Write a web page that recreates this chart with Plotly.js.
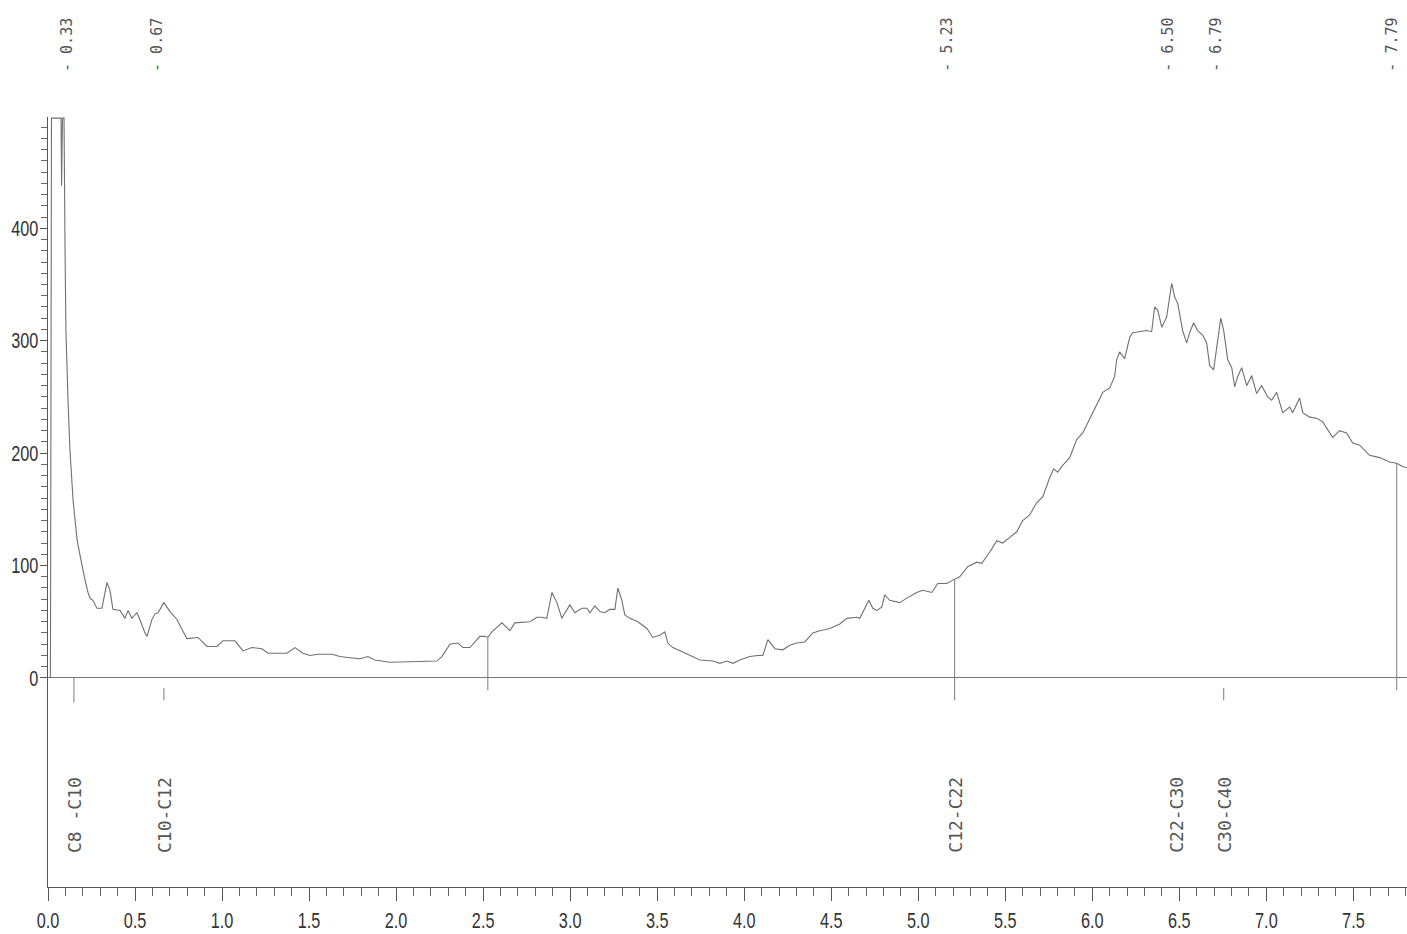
<!DOCTYPE html>
<html>
<head>
<meta charset="utf-8">
<script src="https://cdn.plot.ly/plotly-3.0.1.min.js"></script>
<style>
  html, body { margin: 0; padding: 0; background: #ffffff; }
  #chart { width: 1407px; height: 934px; }
</style>
</head>
<body>
<div id="chart"></div>
<script>
// Retention time (min) and detector signal
var retentionTime = [
  0.014, 0.020, 0.075, 0.078, 0.083, 0.092, 0.098, 0.103, 0.115, 0.126,
  0.144, 0.167, 0.184, 0.195, 0.213, 0.230, 0.241, 0.258, 0.281, 0.310,
  0.327, 0.339, 0.356, 0.373, 0.414, 0.442, 0.460, 0.482, 0.511, 0.528,
  0.557, 0.569, 0.597, 0.615, 0.632, 0.666, 0.701, 0.741, 0.770, 0.798,
  0.862, 0.913, 0.971, 1.005, 1.074, 1.120, 1.172, 1.229, 1.264, 1.373,
  1.419, 1.465, 1.505, 1.551, 1.631, 1.677, 1.735, 1.792, 1.838, 1.878,
  1.964, 2.234, 2.263, 2.309, 2.355, 2.384, 2.424, 2.481, 2.510, 2.527,
  2.550, 2.608, 2.654, 2.682, 2.769, 2.809, 2.837, 2.866, 2.895, 2.924,
  2.952, 2.970, 2.998, 3.027, 3.067, 3.096, 3.113, 3.142, 3.171, 3.199,
  3.228, 3.257, 3.274, 3.297, 3.314, 3.343, 3.389, 3.441, 3.475, 3.515,
  3.544, 3.561, 3.590, 3.647, 3.705, 3.745, 3.820, 3.860, 3.900, 3.935,
  3.975, 4.032, 4.078, 4.107, 4.136, 4.176, 4.222, 4.262, 4.302, 4.348,
  4.394, 4.434, 4.492, 4.549, 4.589, 4.647, 4.664, 4.693, 4.716, 4.739,
  4.762, 4.790, 4.808, 4.836, 4.894, 4.934, 4.991, 5.026, 5.078, 5.112,
  5.164, 5.198, 5.238, 5.284, 5.336, 5.365, 5.411, 5.451, 5.485, 5.526,
  5.566, 5.600, 5.640, 5.681, 5.715, 5.755, 5.778, 5.801, 5.830, 5.870,
  5.910, 5.945, 5.985, 6.025, 6.060, 6.100, 6.128, 6.140, 6.157, 6.186,
  6.215, 6.232, 6.272, 6.312, 6.341, 6.358, 6.376, 6.399, 6.427, 6.456,
  6.473, 6.491, 6.519, 6.542, 6.559, 6.582, 6.605, 6.634, 6.657, 6.674,
  6.697, 6.715, 6.738, 6.755, 6.778, 6.801, 6.818, 6.835, 6.858, 6.887,
  6.916, 6.944, 6.973, 7.008, 7.030, 7.059, 7.094, 7.134, 7.151, 7.191,
  7.209, 7.249, 7.289, 7.323, 7.381, 7.421, 7.461, 7.496, 7.536, 7.593,
  7.651, 7.708, 7.749, 7.783, 7.808
];
var signal = [
  0, 498, 498, 438, 498, 498, 380, 309, 247, 203,
  158, 123, 109, 100, 87, 76, 71, 69, 62, 62,
  76, 85, 78, 61, 60, 53, 60, 53, 58, 52,
  40, 37, 52, 57, 58, 67, 59, 52, 43, 35,
  36, 28, 28, 33, 33, 24, 27, 26, 22, 22,
  27, 22, 20, 21, 21, 19, 18, 17, 19, 16,
  14, 15, 19, 30, 31, 27, 27, 37, 37, 36,
  41, 49, 42, 49, 50, 54, 54, 53, 76, 67,
  53, 58, 65, 58, 62, 62, 58, 64, 59, 58,
  61, 61, 80, 69, 56, 53, 50, 44, 36, 38,
  41, 31, 27, 23, 19, 16, 15, 13, 15, 13,
  16, 19, 20, 20, 34, 26, 25, 29, 31, 32,
  40, 42, 44, 48, 53, 54, 53, 62, 69, 62,
  60, 63, 74, 69, 67, 71, 76, 78, 76, 84,
  84, 87, 90, 99, 103, 102, 112, 122, 120, 125,
  130, 140, 145, 156, 161, 178, 186, 183, 189, 196,
  212, 218, 231, 244, 254, 258, 268, 283, 290, 284,
  303, 307, 308, 309, 308, 330, 327, 312, 321, 351,
  339, 333, 309, 298, 307, 316, 309, 305, 298, 278,
  274, 294, 320, 309, 283, 276, 259, 268, 276, 260,
  269, 253, 260, 250, 247, 254, 236, 241, 236, 249,
  236, 232, 231, 228, 214, 220, 218, 209, 207, 198,
  196, 192, 191, 188, 187
];

// Integration event markers (vertical drop lines)
var markerTimes = [2.527, 5.209, 7.749];
var markerBottoms = [-11, -20, -11];

// Short event ticks below the baseline
var eventTimes = [0.149, 0.666, 6.755];
var eventTops = [0, -9, -9];
var eventBottoms = [-22, -20, -20];

// Peak retention-time labels printed above the chart
var peakTimes = [0.33, 0.67, 5.23, 6.50, 6.79, 7.79];
var peakLabelX = [0.109, 0.626, 5.163, 6.433, 6.709, 7.720];

// Carbon range labels under the baseline
var rangeLabels = ['C8 -C10', 'C10-C12', 'C12-C22', 'C22-C30', 'C30-C40'];
var rangeLabelX = [0.149, 0.666, 5.209, 6.479, 6.755];

// Axis ticks
var xTickVals = [0, 0.5, 1, 1.5, 2, 2.5, 3, 3.5, 4, 4.5, 5, 5.5, 6, 6.5, 7, 7.5];
var yTickVals = [0, 100, 200, 300, 400];

function signalAt(t) {
  for (var i = 1; i < retentionTime.length; i++) {
    if (retentionTime[i] >= t) {
      var t0 = retentionTime[i - 1], t1 = retentionTime[i];
      var f = (t - t0) / (t1 - t0);
      return signal[i - 1] + f * (signal[i] - signal[i - 1]);
    }
  }
  return signal[signal.length - 1];
}

var traces = [{
  x: retentionTime, y: signal, type: 'scatter', mode: 'lines',
  line: {color: '#707070', width: 1.1}, hoverinfo: 'x+y'
}];

markerTimes.forEach(function (t, i) {
  traces.push({
    x: [t, t], y: [markerBottoms[i], signalAt(t)], type: 'scatter', mode: 'lines',
    line: {color: '#7a7a7a', width: 1}, hoverinfo: 'skip'
  });
});
eventTimes.forEach(function (t, i) {
  traces.push({
    x: [t, t], y: [eventBottoms[i], eventTops[i]], type: 'scatter', mode: 'lines',
    line: {color: '#7a7a7a', width: 1}, hoverinfo: 'skip'
  });
});

var annotations = [];
peakTimes.forEach(function (p, i) {
  annotations.push({
    x: peakLabelX[i], xref: 'x', y: 1.0935, yref: 'paper',
    text: '- ' + p.toFixed(2), textangle: -90, showarrow: false,
    xanchor: 'center', yanchor: 'middle',
    font: {family: 'DejaVu Sans Mono, Liberation Mono, monospace', size: 15, color: '#555555'}
  });
});
rangeLabels.forEach(function (lab, i) {
  annotations.push({
    x: rangeLabelX[i], xref: 'x', y: -122, yref: 'y',
    text: lab, textangle: -90, showarrow: false,
    xanchor: 'center', yanchor: 'middle',
    font: {family: 'DejaVu Sans Mono, Liberation Mono, monospace', size: 18, color: '#555555'}
  });
});

var yMinor = [];
for (var v = 10; v < 500; v += 10) { if (v % 100 !== 0) yMinor.push(v); }

var tickFont = {family: 'Liberation Sans, Arial, sans-serif', size: 22, color: '#333333'};

var layout = {
  width: 1407, height: 934,
  margin: {l: 48, r: 0, t: 117, b: 47},
  paper_bgcolor: '#ffffff', plot_bgcolor: '#ffffff',
  showlegend: false,
  xaxis: {
    range: [0, 7.808], showgrid: false, zeroline: false,
    showline: true, linecolor: '#555555', linewidth: 1.2,
    tickmode: 'array', tickvals: xTickVals,
    ticktext: xTickVals.map(function (v) { return v.toFixed(1); }),
    ticks: 'outside', ticklen: 13, tickcolor: '#555555', tickwidth: 1,
    minor: {dtick: 0.1, tick0: 0, ticks: 'outside', ticklen: 8, tickcolor: '#666666', tickwidth: 1},
    tickfont: tickFont
  },
  yaxis: {
    range: [-186, 499], showgrid: false,
    zeroline: true, zerolinecolor: '#777777', zerolinewidth: 1,
    showline: true, linecolor: '#555555', linewidth: 1.2,
    tickmode: 'array', tickvals: yTickVals,
    ticktext: yTickVals.map(String),
    ticks: 'outside', ticklen: 7, tickcolor: '#555555', tickwidth: 1,
    ticklabelstandoff: -3,
    minor: {tickmode: 'array', tickvals: yMinor, ticks: 'outside', ticklen: 6, tickcolor: '#666666', tickwidth: 1},
    tickfont: tickFont
  },
  annotations: annotations
};

Plotly.newPlot('chart', traces, layout, {displayModeBar: false, staticPlot: true}).then(function (gd) {
  // narrow the tick labels horizontally, like the condensed face of the original print
  var texts = gd.querySelectorAll('.xtick text, .ytick text');
  texts.forEach(function (el) {
    var bb = el.getBBox();
    var isY = el.closest('.ytick') !== null;
    var ax = isY ? (bb.x + bb.width) : (bb.x + bb.width / 2);
    var old = el.getAttribute('transform') || '';
    el.setAttribute('transform', old + ' translate(' + ax + ',0) scale(0.74,1) translate(' + (-ax) + ',0)');
  });
});
</script>
</body>
</html>
